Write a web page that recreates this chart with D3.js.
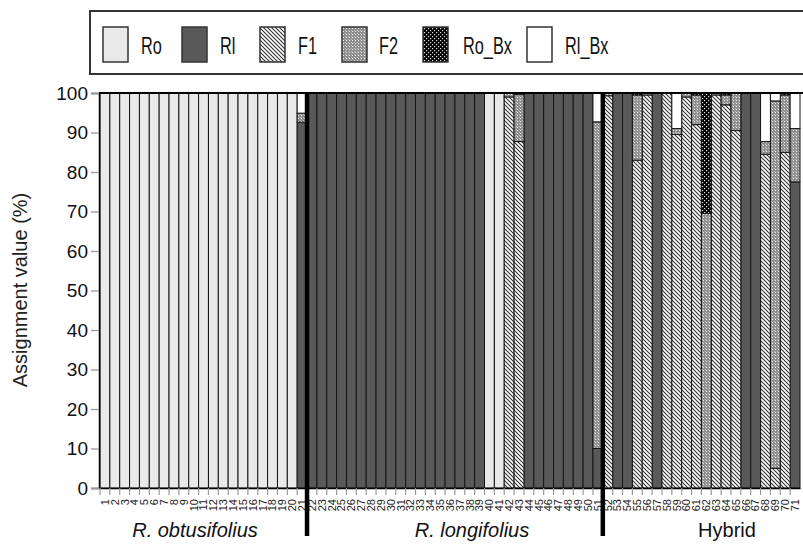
<!DOCTYPE html>
<html><head><meta charset="utf-8">
<script src="https://cdn.jsdelivr.net/npm/d3@7"></script>
<style>html,body{margin:0;padding:0;background:#fff;}svg{display:block;font-family:"Liberation Sans",Arial,sans-serif;}</style>
</head><body><svg id="c" width="803" height="544"></svg>
<script>
// ---- data ----
const individuals = ["1","2","3","4","5","6","7","8","9","10","11","12","13","14","15","16","17","18","19","20","21","22","23","24","25","26","27","28","29","30","31","32","33","34","35","36","37","38","39","40","41","42","43","44","45","46","47","48","49","50","51","52","53","54","55","56","57","58","59","60","61","62","63","64","65","66","67","68","69","70","71"];
const seriesKeys = ["Ro","Rl","F1","F2","Ro_Bx","Rl_Bx"];
const Ro    = [100,100,100,100,100,100,100,100,100,100,100,100,100,100,100,100,100,100,100,100,0, 0,0,0,0,0,0,0,0,0,0,0,0,0,0,0,0,0,0,100,100,0,0,0,0,0,0,0,0,0,0, 0,0,0,0,0,0,0,0,0,0,0,0,0,0,0,0,0,0,0,0];
const Rl    = [0,0,0,0,0,0,0,0,0,0,0,0,0,0,0,0,0,0,0,0,92.6, 100,100,100,100,100,100,100,100,100,100,100,100,100,100,100,100,100,100,0,0,0,0,100,100,100,100,100,100,100,10, 0,100,100,0,0,100,0,0,0,0,0,0,0,0,100,100,0,0,0,77.5];
const F1    = [0,0,0,0,0,0,0,0,0,0,0,0,0,0,0,0,0,0,0,0,0, 0,0,0,0,0,0,0,0,0,0,0,0,0,0,0,0,0,0,0,0,99,87.7,0,0,0,0,0,0,0,0, 99.3,0,0,83,99.5,0,100,89.5,99,92,0,99.5,97,90.5,0,0,84.5,5,85,0];
const F2    = [0,0,0,0,0,0,0,0,0,0,0,0,0,0,0,0,0,0,0,0,2.3, 0,0,0,0,0,0,0,0,0,0,0,0,0,0,0,0,0,0,0,0,1,12,0,0,0,0,0,0,0,82.7, 0.7,0,0,16.5,0.5,0,0,1.5,1,7.5,69.5,0.5,2.5,9.5,0,0,3.2,93,14.5,13.5];
const Ro_Bx = [0,0,0,0,0,0,0,0,0,0,0,0,0,0,0,0,0,0,0,0,0, 0,0,0,0,0,0,0,0,0,0,0,0,0,0,0,0,0,0,0,0,0,0.3,0,0,0,0,0,0,0,0, 0,0,0,0.5,0,0,0,0,0,0.5,30.5,0,0.5,0,0,0,0,0,0.5,0];
const Rl_Bx = [0,0,0,0,0,0,0,0,0,0,0,0,0,0,0,0,0,0,0,0,5.1, 0,0,0,0,0,0,0,0,0,0,0,0,0,0,0,0,0,0,0,0,0,0,0,0,0,0,0,0,0,7.3, 0,0,0,0,0,0,0,9,0,0,0,0,0,0,0,0,12.3,2,0,9];
const yTicks = [0,10,20,30,40,50,60,70,80,90,100];
const groups = [{name:"R. obtusifolius", italic:true, last:"21"},{name:"R. longifolius", italic:true, last:"51"},{name:"Hybrid", italic:false, last:"71"}];

const seriesMap = {Ro, Rl, F1, F2, Ro_Bx, Rl_Bx};
const table = individuals.map((id,i)=>{const o={id}; seriesKeys.forEach(k=>o[k]=seriesMap[k][i]); return o;});

const svg = d3.select("#c");
const defs = svg.append("defs");
// patterns
const pF1 = defs.append("pattern").attr("id","pF1").attr("patternUnits","userSpaceOnUse").attr("width",4).attr("height",4);
pF1.append("rect").attr("width",4).attr("height",4).attr("fill","#fff");
pF1.append("path").attr("d","M-1,-1L5,5M3,-1L5,1M-1,3L1,5").attr("stroke","#333").attr("stroke-width",1.1);
const pF2 = defs.append("pattern").attr("id","pF2").attr("patternUnits","userSpaceOnUse").attr("width",3).attr("height",3);
pF2.append("rect").attr("width",3).attr("height",3).attr("fill","#8e8e8e");
pF2.append("rect").attr("x",1).attr("y",1).attr("width",1).attr("height",1).attr("fill","#f2f2f2");
pF2.append("rect").attr("x",0).attr("y",0).attr("width",1).attr("height",1).attr("fill","#c0c0c0");
const pRB = defs.append("pattern").attr("id","pRoBx").attr("patternUnits","userSpaceOnUse").attr("width",4).attr("height",4);
pRB.append("rect").attr("width",4).attr("height",4).attr("fill","#000");
pRB.append("rect").attr("x",0).attr("y",0).attr("width",1.2).attr("height",1.2).attr("fill","#ddd");
pRB.append("rect").attr("x",2).attr("y",2).attr("width",1.2).attr("height",1.2).attr("fill","#ddd");

const fills = {Ro:"#e9e9e9", Rl:"#595959", F1:"url(#pF1)", F2:"url(#pF2)", Ro_Bx:"url(#pRoBx)", Rl_Bx:"#ffffff"};

// scales
const x = d3.scaleBand().domain(individuals).range([100,800]).padding(0);
const y = d3.scaleLinear().domain([0,100]).range([488,93]);

const stack = d3.stack().keys(seriesKeys)(table);
const gBars = svg.append("g");
stack.forEach(layer=>{
  gBars.selectAll(null).data(layer.filter(d=>d[1]-d[0]>0)).enter().append("rect")
    .attr("x",d=>x(d.data.id)).attr("width",x.bandwidth())
    .attr("y",d=>y(d[1])).attr("height",d=>y(d[0])-y(d[1]))
    .attr("fill",fills[layer.key]).attr("stroke","#151515").attr("stroke-width",1);
});
// top line
svg.append("line").attr("x1",99).attr("x2",803).attr("y1",y(100)).attr("y2",y(100)).attr("stroke","#000").attr("stroke-width",2);

// y axis
const yAxis = svg.append("g").attr("transform","translate(99,0)").call(d3.axisLeft(y).tickValues(yTicks).tickSize(8).tickPadding(3));
yAxis.select(".domain").attr("stroke","#000").attr("stroke-width",1.5);
yAxis.selectAll(".tick line").attr("stroke","#999").attr("stroke-width",1.3);
yAxis.selectAll(".tick text").attr("font-size",19).attr("fill","#111").attr("font-family","Liberation Sans, Arial, sans-serif");

// x axis
const xAxis = svg.append("g").attr("transform","translate(0,488)").call(d3.axisBottom(x).tickSize(0).tickPadding(0));
xAxis.select(".domain").attr("stroke","#000").attr("stroke-width",1.5);
xAxis.selectAll(".tick text").attr("transform","translate(0,11) rotate(-90)").attr("text-anchor","end")
  .attr("dx",0).attr("dy","0.35em").attr("y",0).attr("font-size",11).attr("fill","#222").attr("font-family","Liberation Sans, Arial, sans-serif");
// boundary ticks
svg.append("g").selectAll("line").data(individuals).enter().append("line")
  .attr("x1",d=>x(d)).attr("x2",d=>x(d)).attr("y1",488).attr("y2",495).attr("stroke","#999").attr("stroke-width",1.2);

// separators
groups.slice(0,2).forEach(g=>{
  const bx = x(g.last)+x.bandwidth();
  svg.append("line").attr("x1",bx).attr("x2",bx).attr("y1",92).attr("y2",536).attr("stroke","#000").attr("stroke-width",4.5);
});
// group labels
const glx = [195,472,727];
groups.forEach((g,i)=>{
  svg.append("text").attr("x",glx[i]).attr("y",537).attr("text-anchor","middle").attr("font-size",20)
    .attr("font-style",g.italic?"italic":"normal").attr("fill","#111").text(g.name);
});

// y title
svg.append("text").attr("transform","translate(27,290) rotate(-90)").attr("text-anchor","middle")
  .attr("font-size",20).attr("fill","#222").text("Assignment value (%)");

// legend
svg.append("rect").attr("x",90).attr("y",11).attr("width",760).attr("height",63).attr("fill","#fff").attr("stroke","#333").attr("stroke-width",2);
const legX = [103,182,260,342,423,527];
const legTX = [141,220,298,379,463,565];
seriesKeys.forEach((k,i)=>{
  svg.append("rect").attr("x",legX[i]).attr("y",27).attr("width",25).attr("height",35)
    .attr("fill",fills[k]).attr("stroke","#333").attr("stroke-width",1.5);
  svg.append("text").attr("transform",`translate(${legTX[i]},54) scale(0.68,1)`).attr("font-size",24).attr("fill","#111").text(k);
});
</script></body></html>
